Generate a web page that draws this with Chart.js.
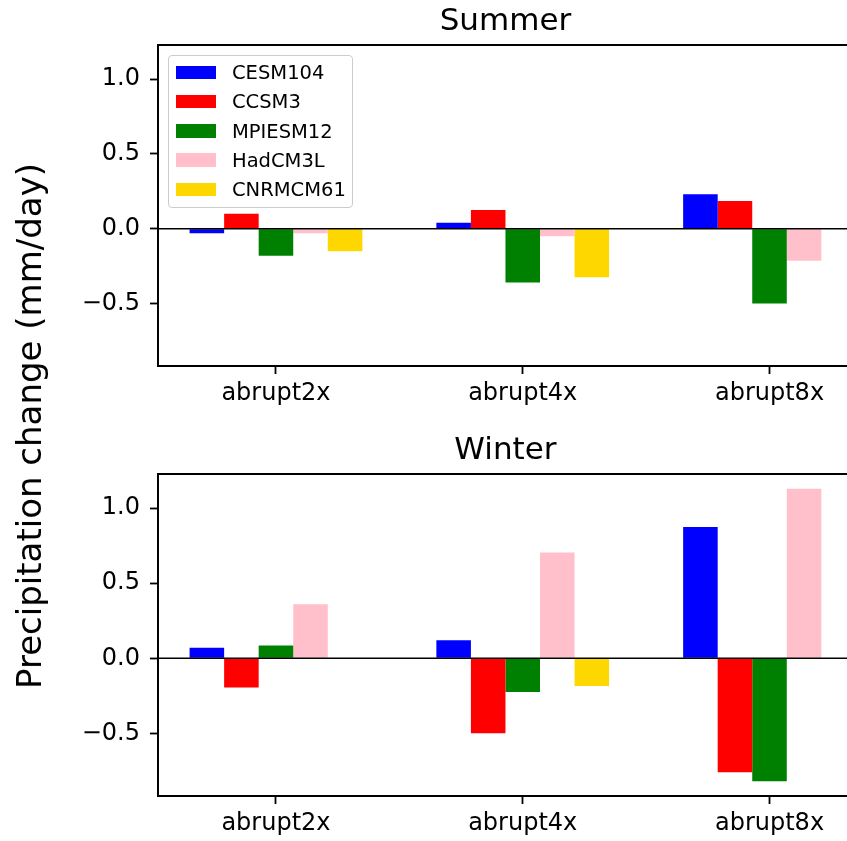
<!DOCTYPE html>
<html>
<head>
<meta charset="utf-8">
<title>Precipitation change</title>
<script src="https://cdn.jsdelivr.net/npm/chart.js@4.4.1/dist/chart.umd.min.js"></script>
<style>
  html, body { margin: 0; padding: 0; background: #fff; overflow: hidden; width: 847px; height: 841px; }
  #page { position: relative; width: 847px; height: 841px; overflow: hidden; font-family: "DejaVu Sans", sans-serif; color: #000; }
  .panel { position: absolute; left: 0; }
  #ylabel { position: absolute; left: 29px; top: 426px; transform: translate(-50%, -50%) rotate(-90deg);
            font-size: 34px; line-height: 1; white-space: nowrap; }
  #legend { position: absolute; left: 168px; top: 55px; width: 183px; height: 151px; box-sizing: content-box;
            border: 1.5px solid #cccccc; border-radius: 4px; background: rgba(255,255,255,0.8); z-index: 2; }
  #legend .row { position: absolute; left: 0; height: 0; }
  #legend .swatch { position: absolute; left: 7px; top: -6.7px; width: 40px; height: 13.3px; }
  #legend .name { position: absolute; left: 63px; top: -9.4px; font-size: 19.5px; line-height: 1; white-space: nowrap; }
</style>
</head>
<body>
<div id="page">
  <canvas id="summerChart" class="panel" style="top:0px" width="847" height="420"></canvas>
  <canvas id="winterChart" class="panel" style="top:430px" width="847" height="411"></canvas>
  <div id="legend"></div>
  <div id="ylabel">Precipitation change (mm/day)</div>
</div>
<script>
// experiments on the x axis, models as grouped bars
const experiments = ['abrupt2x', 'abrupt4x', 'abrupt8x'];
const models = ['CESM104', 'CCSM3', 'MPIESM12', 'HadCM3L', 'CNRMCM61'];
const modelColors = ['#0000ff', '#ff0000', '#008000', '#ffc0cb', '#ffd700'];
const yTicks = [-0.5, 0.0, 0.5, 1.0];

// Summer precipitation change (mm/day)
const summerCESM104 = [-0.03, 0.04, 0.23];
const summerCCSM3 = [0.10, 0.125, 0.185];
const summerMPIESM12 = [-0.18, -0.36, -0.50];
const summerHadCM3L = [-0.03, -0.05, -0.215];
const summerCNRMCM61 = [-0.15, -0.325, null];

// Winter precipitation change (mm/day)
const winterCESM104 = [0.07, 0.12, 0.875];
const winterCCSM3 = [-0.195, -0.50, -0.76];
const winterMPIESM12 = [0.085, -0.225, -0.82];
const winterHadCM3L = [0.36, 0.705, 1.13];
const winterCNRMCM61 = [-0.005, -0.185, null];

const FONT = '"DejaVu Sans", sans-serif';
const X_MIN = -0.478;
const X_MAX = 2.338;     // full axes extent; the page cuts it slightly short
const X_VISIBLE = 2.314; // last value that fits on the page

// left/top/bottom spines and the zero line, drawn over the bars
const axesFrame = {
    id: 'axesFrame',
    afterDatasetsDraw(chart) {
        const a = chart.chartArea;
        const ctx = chart.ctx;
        const y0 = chart.scales.y.getPixelForValue(0);
        ctx.save();
        ctx.strokeStyle = '#000';
        ctx.lineWidth = 1.5;
        ctx.beginPath();
        ctx.moveTo(a.left, y0);
        ctx.lineTo(a.right, y0);
        ctx.stroke();
        ctx.lineWidth = 1.8;
        ctx.beginPath();
        ctx.moveTo(a.right + 2, a.top);
        ctx.lineTo(a.left, a.top);
        ctx.lineTo(a.left, a.bottom);
        ctx.lineTo(a.right + 2, a.bottom);
        ctx.stroke();
        ctx.restore();
    }
};

// panel title centred over the full axes width
const panelTitle = {
    id: 'panelTitle',
    afterDraw(chart, args, opts) {
        const a = chart.chartArea;
        const ctx = chart.ctx;
        const right = chart.scales.x.getPixelForValue(X_MAX);
        ctx.save();
        ctx.font = '31px ' + FONT;
        ctx.fillStyle = '#000';
        ctx.textAlign = 'center';
        ctx.textBaseline = 'alphabetic';
        ctx.fillText(opts.text, (a.left + right) / 2, a.top - 15);
        ctx.restore();
    }
};

function makeDatasets(seriesList) {
    return models.map((name, i) => ({
        label: name,
        data: seriesList[i].map((v, j) => ({ x: j, y: v })),
        backgroundColor: modelColors[i],
        borderWidth: 0
    }));
}

function makeChart(id, title, seriesList, padTop, xAxisHeight) {
    const ctx = document.getElementById(id).getContext('2d');
    return new Chart(ctx, {
        type: 'bar',
        data: { datasets: makeDatasets(seriesList) },
        plugins: [axesFrame, panelTitle],
        options: {
            responsive: false,
            animation: false,
            layout: { padding: { top: padTop, right: 0, bottom: 0, left: 0 } },
            datasets: { bar: { categoryPercentage: 0.7, barPercentage: 1.0 } },
            plugins: {
                legend: { display: false },
                tooltip: { enabled: false },
                panelTitle: { text: title }
            },
            scales: {
                x: {
                    type: 'linear',
                    min: X_MIN,
                    max: X_VISIBLE,
                    offset: false,
                    afterBuildTicks: (scale) => { scale.ticks = experiments.map((_, i) => ({ value: i })); },
                    afterFit: (scale) => { scale.height = xAxisHeight; },
                    grid: { drawOnChartArea: false, offset: false, tickColor: '#000', tickLength: 8, tickWidth: 1.8 },
                    border: { display: true, color: '#000', width: 1.8 },
                    ticks: {
                        color: '#000',
                        font: { family: FONT, size: 24 },
                        padding: 5,
                        maxRotation: 0,
                        callback: (value) => experiments[value]
                    }
                },
                y: {
                    min: -0.9175,
                    max: 1.2275,
                    afterBuildTicks: (scale) => { scale.ticks = yTicks.map(v => ({ value: v })); },
                    afterFit: (scale) => { scale.width = 158; },
                    grid: { drawOnChartArea: false, tickColor: '#000', tickLength: 8, tickWidth: 1.8 },
                    border: { display: true, color: '#000', width: 1.8 },
                    ticks: {
                        color: '#000',
                        font: { family: FONT, size: 24 },
                        padding: 10,
                        callback: (value) => (value < 0 ? '\u2212' : '') + Math.abs(value).toFixed(1)
                    }
                }
            }
        }
    });
}

makeChart('summerChart', 'Summer',
    [summerCESM104, summerCCSM3, summerMPIESM12, summerHadCM3L, summerCNRMCM61], 45, 54);
makeChart('winterChart', 'Winter',
    [winterCESM104, winterCCSM3, winterMPIESM12, winterHadCM3L, winterCNRMCM61], 44, 45);

// legend box in the upper-left of the summer panel
const legend = document.getElementById('legend');
models.forEach((name, i) => {
    const row = document.createElement('div');
    row.className = 'row';
    row.style.top = (16.7 + i * 29.15) + 'px';
    const sw = document.createElement('div');
    sw.className = 'swatch';
    sw.style.background = modelColors[i];
    const label = document.createElement('div');
    label.className = 'name';
    label.textContent = name;
    row.appendChild(sw);
    row.appendChild(label);
    legend.appendChild(row);
});
</script>
</body>
</html>
